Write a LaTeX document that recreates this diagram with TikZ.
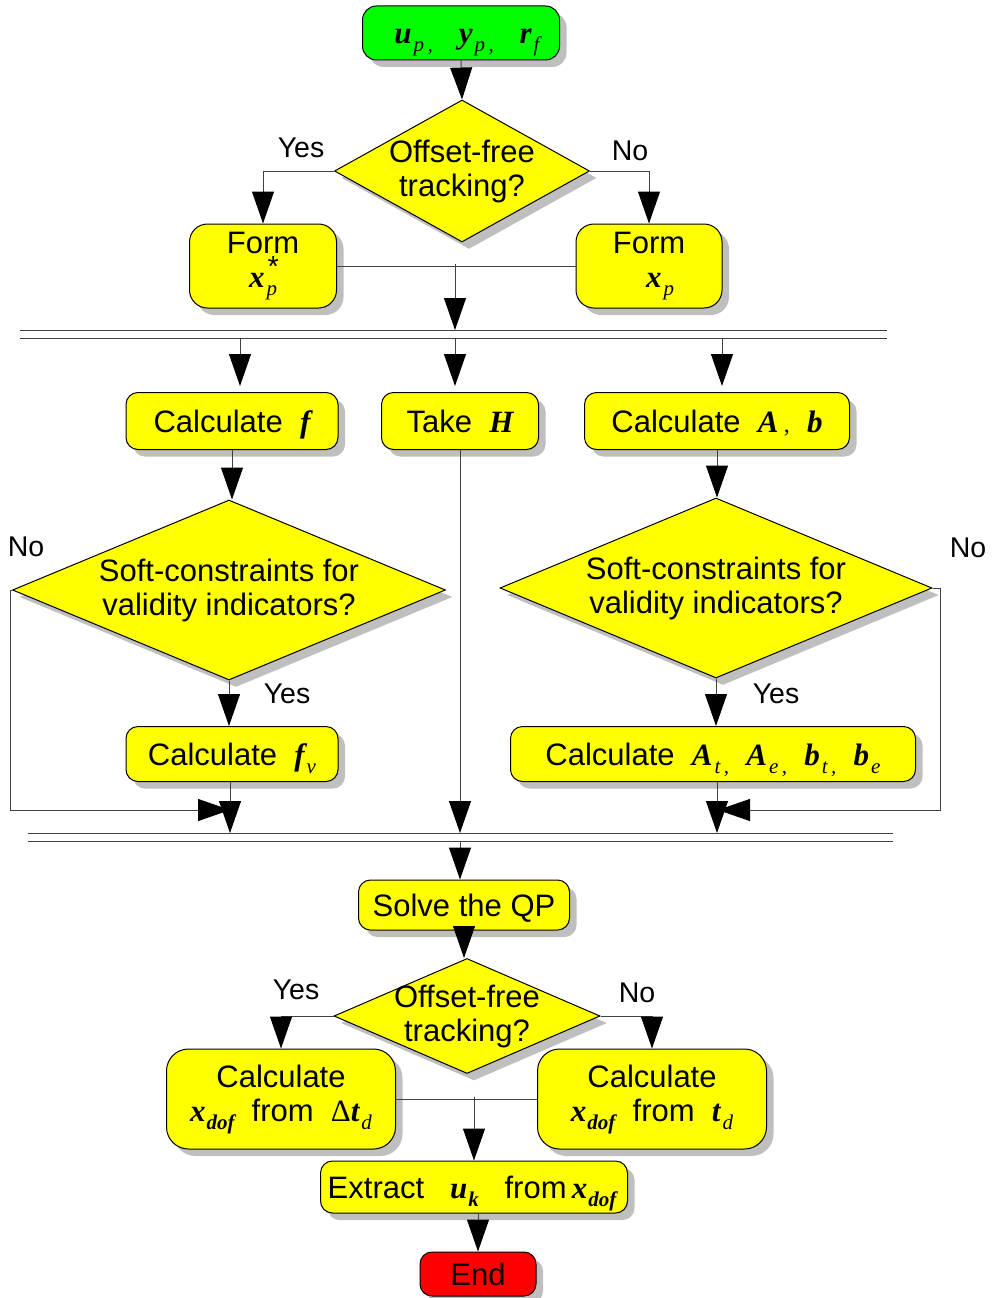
\documentclass[tikz,border=0pt]{standalone}
\definecolor{boxyellow}{rgb}{1,1,0}
\definecolor{startgreen}{rgb}{0,1,0}
\definecolor{endred}{rgb}{1,0,0}
\definecolor{shadowgray}{rgb}{0.75,0.75,0.75}
\definecolor{linegray}{rgb}{0.25,0.25,0.25}
\usepackage{fontspec}
\setmainfont{Liberation Sans}
\newfontfamily\varfont{Liberation Serif}
\usetikzlibrary{positioning}
\usetikzlibrary{arrows.meta, shapes.geometric, shadows}

\newcommand{\vb}[1]{{\varfont\bfseries\itshape #1}}
\newcommand{\vsub}[1]{\kern2pt\raisebox{-8pt}{\varfont\itshape\fontsize{21}{21}\selectfont #1}}
\newcommand{\vsubb}[1]{\kern1pt\raisebox{-8pt}{\varfont\bfseries\itshape\fontsize{21}{21}\selectfont #1}}

\begin{document}
\begin{tikzpicture}[x=1pt, y=-1pt, font=\fontsize{31}{34}\selectfont,
    procbox/.style={draw, line width=1pt, fill=boxyellow, rounded corners=12pt,
      align=center, inner sep=0pt,
      drop shadow={shadow xshift=7pt, shadow yshift=-7pt, fill=shadowgray, opacity=1}},
    onerow/.style={text height=26pt, text depth=4pt},
    decision/.style={diamond, draw, line width=1pt, fill=boxyellow, align=center,
      inner sep=-4pt,
      drop shadow={shadow xshift=7pt, shadow yshift=-7pt, fill=shadowgray, opacity=1}},
    answer/.style={font=\fontsize{28.5}{32}\selectfont, inner sep=0pt},
    flowline/.style={draw=linegray, line width=1pt},
    flowarrow/.style={flowline, -{Triangle[width=22pt,length=32pt,color=black]}},
    busline/.style={draw=linegray, line width=1pt}]
  \useasboundingbox (0,0) rectangle (999,1298);

  % start and first decision
  \node[procbox, onerow, fill=startgreen, minimum width=197pt, minimum height=54pt, rounded corners=14pt]
    (start) at (461,33) {\hspace{12pt}\vb{u}\vsub{p\,,}\ \ \ \vb{y}\vsub{p\,,}\ \ \ \vb{r}\vsub{f}};
  \node[decision, aspect=1.8, minimum width=255pt, minimum height=142pt]
    (offset1) at (462,171) {Offset-free\\tracking?};
  \node[answer] (yes1) at (301,148) {Yes};
  \node[answer] (no1) at (630,151) {No};
  \node[procbox, minimum width=147pt, minimum height=84pt, rounded corners=18pt]
    (formstar) at (263,266) {Form\\\vb{x}\rlap{\kern3pt\raisebox{11pt}{\fontsize{29}{29}\selectfont *}}\vsub{p}};
  \node[procbox, minimum width=146pt, minimum height=84pt, rounded corners=18pt]
    (formx) at (649,266) {Form\\\hspace{22pt}\vb{x}\vsub{p}};

  \draw[flowarrow] (start.south) -- (offset1.north);
  \draw[flowarrow] (offset1.west) -| (formstar.north);
  \draw[flowarrow] (offset1.east) -| (formx.north);

  % first bus
  \coordinate (busA-w) at (20,330);
  \coordinate (busA-e) at (887,330);
  \coordinate (busB-w) at (20,338);
  \coordinate (busB-e) at (887,338);
  \draw[busline] (busA-w) -- (busA-e);
  \draw[busline] (busB-w) -- (busB-e);
  \coordinate (joinform) at (455,264);
  \draw[flowline] (formstar.east) -- (formx.west);
  \draw[flowarrow] (joinform) -- (joinform |- busA-w);

  % second row of boxes
  \node[procbox, onerow, minimum width=212pt, minimum height=57pt] (calcf) at (232,421)
    {Calculate\ \ \vb{f}};
  \node[procbox, onerow, minimum width=157pt, minimum height=57pt] (takeh) at (460,421)
    {Take\ \ \vb{H}};
  \node[procbox, onerow, minimum width=265pt, minimum height=57pt] (calcab) at (717,421)
    {Calculate\ \ \vb{A}\,{\varfont\fontsize{24}{24}\selectfont,}\ \ \vb{b}};

  \draw[flowarrow] ([xshift=8pt]calcf.north |- busB-w) -- ([xshift=8pt,yshift=6pt]calcf.north);
  \draw[flowarrow] ([xshift=-5pt]takeh.north |- busB-w) -- ([xshift=-5pt,yshift=6pt]takeh.north);
  \draw[flowarrow] ([xshift=5pt]calcab.north |- busB-w) -- ([xshift=5pt,yshift=6pt]calcab.north);

  % soft-constraint decisions
  \node[decision, aspect=2.4, minimum width=433pt, minimum height=180pt]
    (softl) at (229,590) {Soft-constraints for\\validity indicators?};
  \node[decision, aspect=2.4, minimum width=432pt, minimum height=180pt]
    (softr) at (716,588) {Soft-constraints for\\validity indicators?};
  \node[answer] (nol) at (26,547) {No};
  \node[answer] (yesl) at (287,694) {Yes};
  \node[answer] (nor) at (968,548) {No};
  \node[answer] (yesr) at (776,694) {Yes};

  \node[procbox, onerow, minimum width=212pt, minimum height=55pt] (calcfv) at (232,754)
    {Calculate\ \ \vb{f}\vsub{v}};
  \node[procbox, onerow, minimum width=405pt, minimum height=55pt] (calcat) at (713,754)
    {Calculate\ \ \vb{A}\vsub{t\,,}\ \ \vb{A}\vsub{e\,,}\ \ \vb{b}\vsub{t\,,}\ \ \vb{b}\vsub{e}};

  \draw[flowarrow] (calcf.south) -- (calcf.south |- softl.north);
  \draw[flowarrow] (calcab.south) -- (calcab.south |- softr.north);
  \draw[flowarrow] (softl.south) -- (softl.south |- calcfv.north);
  \draw[flowarrow] (softr.south) -- (softr.south |- calcat.north);

  % second bus
  \coordinate (busC-w) at (28,833);
  \coordinate (busC-e) at (893,833);
  \coordinate (busD-w) at (28,841);
  \coordinate (busD-e) at (893,841);
  \draw[busline] (busC-w) -- (busC-e);
  \draw[busline] (busD-w) -- (busD-e);

  \coordinate (mergel) at (230,810);
  \coordinate (merger) at (718,810);
  \coordinate (loopl) at (10,810);
  \coordinate (loopr) at (940,810);
  \draw[flowarrow] (softl.west) -| (loopl) -- (mergel);
  \draw[flowarrow] (softr.east) -| (loopr) -- (merger);
  \draw[flowarrow] ([xshift=-2pt]calcfv.south) -- ([xshift=-2pt]calcfv.south |- busC-w);
  \draw[flowarrow] (takeh.south) -- (takeh.south |- busC-w);
  \draw[flowarrow] ([xshift=4pt]calcat.south) -- ([xshift=4pt]calcat.south |- busC-w);

  % solve and final decision
  \node[procbox, onerow, minimum width=211pt, minimum height=50pt] (solve) at (464,905)
    {Solve the QP};
  \draw[flowarrow] ([xshift=-4pt]solve.north |- busD-w) -- ([xshift=-4pt]solve.north);
  \node[decision, aspect=2.31, minimum width=266pt, minimum height=115pt]
    (offset2) at (467,1016) {Offset-free\\tracking?};
  \node[answer] (yes2) at (296,990) {Yes};
  \node[answer] (no2) at (637,993) {No};
  \draw[flowarrow] (solve.south) -- (solve.south |- offset2.north);

  \node[procbox, minimum width=229pt, minimum height=100pt, rounded corners=22pt]
    (xdelta) at (281,1099) {Calculate\\\vb{x}\vsubb{dof}\ \ from\ \ {\varfont Δ}\vb{t}\vsub{d}};
  \node[procbox, minimum width=229pt, minimum height=100pt, rounded corners=22pt]
    (xtd) at (652,1099) {Calculate\\\vb{x}\vsubb{dof}\ \ from\ \ \vb{t}\vsub{d}};
  \draw[flowarrow] (offset2.west) -| (xdelta.north);
  \draw[flowarrow] (offset2.east) -| (xtd.north);

  \node[procbox, onerow, minimum width=307pt, minimum height=52pt] (extract) at (474,1187)
    {Extract\ \ \ \vb{u}\vsubb{k}\ \ \ from\,\vb{x}\vsubb{dof}\kern4pt};
  \coordinate (joinx) at (474,1097);
  \draw[flowline] (xdelta.east) -- (xtd.west);
  \draw[flowarrow] (joinx) -- (extract.north);

  \node[procbox, onerow, fill=endred, minimum width=116pt, minimum height=44pt] (finish) at (478,1274)
    {End};
  \draw[flowarrow] ([xshift=4pt]extract.south) -- (finish.north);
\end{tikzpicture}
\end{document}
